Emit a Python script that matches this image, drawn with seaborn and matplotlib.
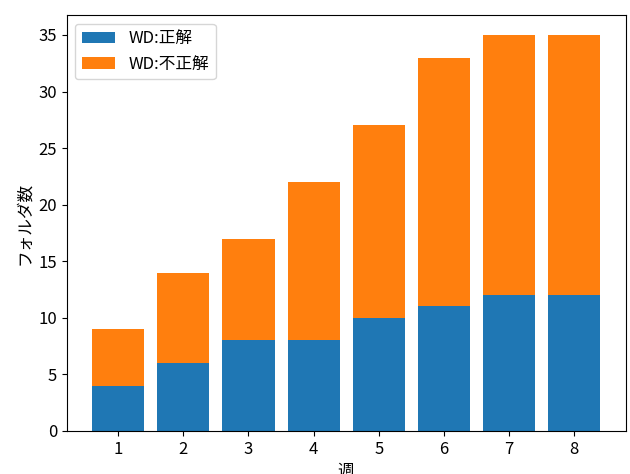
import matplotlib
matplotlib.use('Agg')
import matplotlib.pyplot as plt
import seaborn as sns
import pandas as pd

plt.rcParams['font.family'] = ['Noto Sans CJK JP', 'DejaVu Sans']
plt.rcParams['font.size'] = 12

# weekly folder counts
weeks = [1, 2, 3, 4, 5, 6, 7, 8]
correct = [4, 6, 8, 8, 10, 11, 12, 12]
incorrect = [5, 8, 9, 14, 17, 22, 23, 23]

df = pd.DataFrame({'week': weeks, 'correct': correct, 'incorrect': incorrect})

fig, ax = plt.subplots(figsize=(6.3, 4.74), dpi=100)
sns.barplot(data=df, x='week', y='correct', color='#1f77b4', saturation=1,
            width=0.8, label='WD:正解', ax=ax)
sns.barplot(data=df, x='week', y='incorrect', color='#ff7f0e', saturation=1,
            width=0.8, bottom=df['correct'], label='WD:不正解', ax=ax)

ax.set_xlim(-0.79, 7.79)
ax.set_ylim(0, 36.75)
ax.set_xlabel('週')
ax.set_ylabel('フォルダ数')
ax.legend(loc='upper left')

fig.subplots_adjust(left=0.106, right=0.993, top=0.968, bottom=0.091)
fig.savefig('out.png', dpi=100)
